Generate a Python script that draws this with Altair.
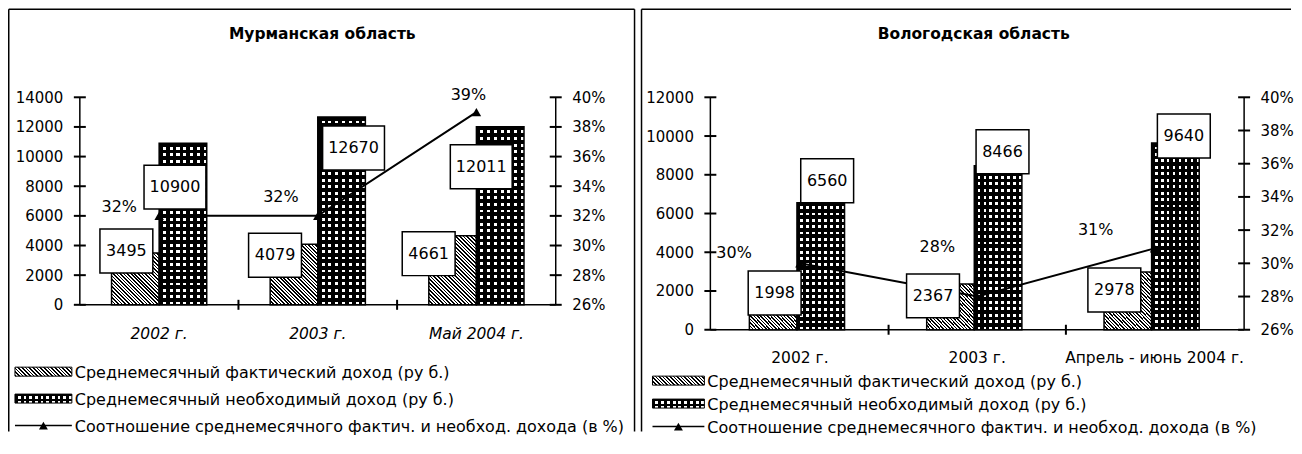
import altair as alt

# ---------------- data ----------------
regions = ["Мурманская область", "Вологодская область"]

mur_periods = ["2002 г.", "2003 г.", "Май 2004 г."]
mur_actual = [3495, 4079, 4661]
mur_needed = [10900, 12670, 12011]
mur_ratio = [0.32, 0.32, 0.39]

vol_periods = ["2002 г.", "2003 г.", "Апрель - июнь 2004 г."]
vol_actual = [1998, 2367, 2978]
vol_needed = [6560, 8466, 9640]
vol_ratio = [0.30, 0.28, 0.309]

mur_income_ticks = [0, 2000, 4000, 6000, 8000, 10000, 12000, 14000]
vol_income_ticks = [0, 2000, 4000, 6000, 8000, 10000, 12000]
ratio_ticks = [0.26, 0.28, 0.30, 0.32, 0.34, 0.36, 0.38, 0.40]

series_keys = ["actual", "needed"]
legend_labels = [
    "Среднемесячный фактический доход (ру б.)",
    "Среднемесячный необходимый доход (ру б.)",
    "Соотношение среднемесячного фактич. и необход. дохода (в %)",
]

# ---------------- style ----------------
FONT = "DejaVu Sans"
INK = "black"
CLEAR = "rgba(255,255,255,0)"


def stripes(n, dark, light, frac, x1, y1, x2, y2):
    stops = []
    for i in range(n):
        a = i / n
        b = (i + frac) / n
        c = (i + 1) / n
        stops += [
            {"offset": a, "color": dark},
            {"offset": b, "color": dark},
            {"offset": b, "color": light},
            {"offset": c, "color": light},
        ]
    return {"gradient": "linear", "x1": x1, "y1": y1, "x2": x2, "y2": y2, "stops": stops}


def hatch(w, h, period=3.6, frac=0.45):
    n = max(1, int(round((w + h) / period)))
    d = w * w + h * h
    x2 = w * (w + h) / d
    y2 = 1 - h * (w + h) / d
    return stripes(n, INK, "white", frac, 0, 1, x2, y2)


def checker_rows(h, period=6.5, frac=0.55):
    n = max(1, int(round(h / period)))
    return stripes(n, INK, "white", frac, 0, 0, 0, 1)


def checker_cols(w, period=6.5, frac=0.55):
    n = max(1, int(round(w / period)))
    return stripes(n, INK, CLEAR, frac, 0, 0, 1, 0)


PANELS = [
    dict(
        title=regions[0], periods=mur_periods, actual=mur_actual, needed=mur_needed,
        ratio=mur_ratio, ticks=mur_income_ticks, W=477, H=208, pin=0.40, pout=0.20,
        italic=True, title_xy=(243, -63), xlab_dy=29,
        box_a=[(-9, -2), (-19, 11), (-24, 18)],
        box_n=[(-8, 44), (12, 31), (-19, 40)],
        pct_off=[(-40, -9), (-37, -19), (-8, -17)],
        border=dict(left=-71.25, right=556, top=-88.25, bottom=335),
        sw=(-65, -8), text_x=-5, rows=[276, 303, 330],
    ),
    dict(
        title=regions[1], periods=vol_periods, actual=vol_actual, needed=vol_needed,
        ratio=vol_ratio, ticks=vol_income_ticks, W=535, H=233, pin=0.43, pout=0.22,
        italic=False, title_xy=(264, -63), xlab_dy=28,
        box_a=[(0, 2), (-19, 12), (-15, 18)],
        box_n=[(2, -22), (0, -14), (4, -7)],
        pct_off=[(-66, -10), (-40, -50), (-59, -18)],
        border=dict(left=-69, right=None, top=-88.25, bottom=335, top_end=582),
        sw=(-58, -6), text_x=-3, rows=[285, 308, 331],
    ),
]


def one_row():
    return alt.Data(values=[{"k": 0}])


def build_panel(cfg):
    W, H = cfg["W"], cfg["H"]
    periods = cfg["periods"]
    ymax = cfg["ticks"][-1]
    rmin, rmax = ratio_ticks[0], ratio_ticks[-1]
    step = W / (len(periods) - cfg["pin"] + 2 * cfg["pout"])
    band = step * (1 - cfg["pin"])
    bar_w = band / 2

    rows = []
    for p, a, n in zip(periods, cfg["actual"], cfg["needed"]):
        ha = a / ymax * H
        hn = n / ymax * H
        rows.append({"period": p, "series": "actual", "value": a,
                     "fa": hatch(bar_w, ha), "fb": "transparent"})
        rows.append({"period": p, "series": "needed", "value": n,
                     "fa": checker_rows(hn), "fb": checker_cols(bar_w)})
    bars_data = alt.Data(values=rows)
    line_data = alt.Data(values=[{"period": p, "ratio": r} for p, r in zip(periods, cfg["ratio"])])

    xscale = alt.Scale(domain=periods, paddingInner=cfg["pin"], paddingOuter=cfg["pout"])
    x_plain = alt.X("period:N", scale=xscale, title=None, axis=None)

    yscale = alt.Scale(domain=[0, ymax], nice=False, zero=True)
    y_axis = alt.Y("value:Q", stack=None, scale=yscale, title=None, axis=alt.Axis(
        values=cfg["ticks"], format="d", ticks=False, tickSize=0, domain=False, grid=False,
        labelFont=FONT, labelFontSize=15, labelColor=INK, labelPadding=17,
        labelOverlap=False, labelFlush=False))
    y_plain = alt.Y("value:Q", stack=None, scale=yscale, title=None, axis=None)

    rscale = alt.Scale(domain=[rmin, rmax], nice=False, zero=False)
    r_axis = alt.Y("ratio:Q", scale=rscale, title=None, axis=alt.Axis(
        orient="right", values=ratio_ticks, format=".0%", ticks=False, tickSize=0,
        domain=False, grid=False, labelFont=FONT, labelFontSize=15,
        labelColor=INK, labelPadding=16, labelOverlap=False, labelFlush=False))
    r_plain = alt.Y("ratio:Q", scale=rscale, title=None, axis=None)

    xo = alt.XOffset("series:N", scale=alt.Scale(domain=series_keys, paddingInner=0, paddingOuter=0))

    layers = []
    layers.append(alt.Chart(bars_data).mark_bar(strokeWidth=0).encode(
        x=x_plain, xOffset=xo, y=y_axis, fill=alt.Fill("fa:N", scale=None, legend=None)))
    layers.append(alt.Chart(bars_data).mark_bar(stroke=INK, strokeWidth=1.5).encode(
        x=x_plain, xOffset=xo, y=y_plain, fill=alt.Fill("fb:N", scale=None, legend=None)))

    def rule(width=1.5, **enc):
        return alt.Chart(one_row()).mark_rule(color=INK, strokeWidth=width).encode(
            **{k: alt.value(v) for k, v in enc.items()})

    # axis lines
    layers.append(rule(x=0, y=0, y2=H))
    layers.append(rule(x=W, y=0, y2=H))
    layers.append(rule(y=H, x=0, x2=W))

    # axis tick marks crossing the axis lines (positions follow the axis tick values)
    for v in cfg["ticks"]:
        ty = H * (1 - v / ymax)
        layers.append(rule(width=2, y=ty, x=-6, x2=6))
    for r in ratio_ticks:
        ty = H * (1 - (r - rmin) / (rmax - rmin))
        layers.append(rule(width=2, y=ty, x=W - 6, x2=W + 6))
    for i in range(len(periods) - 1):
        bx = step * cfg["pout"] + (i + 1) * step - step * cfg["pin"] / 2
        layers.append(rule(width=2, x=bx, y=H - 5, y2=H + 5))

    # category labels
    layers.append(alt.Chart(line_data).mark_text(
        font=FONT, fontSize=15.5, color=INK, align="center", baseline="middle",
        fontStyle="italic" if cfg["italic"] else "normal").encode(
        x=x_plain, y=alt.value(H + cfg["xlab_dy"]), text="period:N"))

    # ratio line
    layers.append(alt.Chart(line_data).mark_line(color=INK, strokeWidth=2).encode(x=x_plain, y=r_axis))
    layers.append(alt.Chart(line_data).mark_point(
        shape="triangle-up", filled=True, color=INK, size=90, opacity=1).encode(x=x_plain, y=r_plain))

    # value boxes
    for i, p in enumerate(periods):
        for s, val, off, sign in (("actual", cfg["actual"][i], cfg["box_a"][i], -1),
                                  ("needed", cfg["needed"][i], cfg["box_n"][i], 1)):
            dx = sign * bar_w / 2 + off[0]
            dy = off[1]
            bw = 53 if len(str(val)) <= 4 else 62
            bh = 44
            path = f"M{-bw / 2},{-bh / 2}H{bw / 2}V{bh / 2}H{-bw / 2}Z"
            base = alt.Chart(bars_data).transform_filter(
                (alt.datum.period == p) & (alt.datum.series == s))
            layers.append(base.mark_point(
                shape=path, size=4, filled=True, fill="white", stroke=INK, strokeWidth=1.5,
                opacity=1, xOffset=dx, yOffset=dy).encode(x=x_plain, y=y_plain))
            layers.append(base.mark_text(
                font=FONT, fontSize=16, color=INK, align="center", baseline="middle",
                xOffset=dx, yOffset=dy).encode(x=x_plain, y=y_plain, text=alt.Text("value:Q", format="d")))

    # ratio labels
    for i, p in enumerate(periods):
        dx, dy = cfg["pct_off"][i]
        layers.append(alt.Chart(line_data).transform_filter(alt.datum.period == p).mark_text(
            font=FONT, fontSize=16, color=INK, align="center", baseline="middle",
            xOffset=dx, yOffset=dy).encode(x=x_plain, y=r_plain, text=alt.Text("ratio:Q", format=".0%")))

    # panel border
    b = cfg["border"]
    layers.append(rule(x=b["left"], y=b["top"], y2=b["bottom"]))
    if b.get("right") is not None:
        layers.append(rule(x=b["right"], y=b["top"], y2=b["bottom"]))
        top_end = b["right"]
    else:
        top_end = b["top_end"]
    layers.append(rule(y=b["top"], x=b["left"], x2=top_end))

    # title
    tx, ty = cfg["title_xy"]
    layers.append(alt.Chart(one_row()).mark_text(
        font=FONT, fontSize=15.5, fontWeight="bold", color=INK, align="center", baseline="middle").encode(
        x=alt.value(tx), y=alt.value(ty), text=alt.value(cfg["title"])))

    # legend
    x1, x2 = cfg["sw"]
    sw_w = x2 - x1
    r0, r1, r2 = [r - 1 for r in cfg["rows"]]
    layers.append(alt.Chart(one_row()).mark_rect(stroke=INK, strokeWidth=1).encode(
        x=alt.value(x1), x2=alt.value(x2), y=alt.value(r0 - 4.5), y2=alt.value(r0 + 4.5),
        fill=alt.value(hatch(sw_w, 9))))
    layers.append(alt.Chart(one_row()).mark_rect(strokeWidth=0).encode(
        x=alt.value(x1), x2=alt.value(x2), y=alt.value(r1 - 4.5), y2=alt.value(r1 + 4.5),
        fill=alt.value(checker_rows(9, period=4.5, frac=0.5))))
    layers.append(alt.Chart(one_row()).mark_rect(stroke=INK, strokeWidth=1).encode(
        x=alt.value(x1), x2=alt.value(x2), y=alt.value(r1 - 4.5), y2=alt.value(r1 + 4.5),
        fill=alt.value(checker_cols(sw_w, period=5.5, frac=0.5))))
    layers.append(rule(y=r2, x=x1, x2=x2))
    layers.append(alt.Chart(one_row()).mark_point(
        shape="triangle-up", filled=True, color=INK, size=80, opacity=1).encode(
        x=alt.value((x1 + x2) / 2), y=alt.value(r2)))
    for lbl, ry in zip(legend_labels, cfg["rows"]):
        layers.append(alt.Chart(one_row()).mark_text(
            font=FONT, fontSize=16, color=INK, align="left", baseline="middle").encode(
            x=alt.value(cfg["text_x"]), y=alt.value(ry), text=alt.value(lbl)))

    return alt.layer(*layers).resolve_scale(y="independent").properties(width=W, height=H)


left = build_panel(PANELS[0])
right = build_panel(PANELS[1])

chart = alt.hconcat(left, right, spacing=155, bounds="flush").properties(
    padding=0, background="white"
).configure(font=FONT).configure_view(stroke=None)

chart.save("out.html", embed_options={"renderer": "svg", "actions": False})
